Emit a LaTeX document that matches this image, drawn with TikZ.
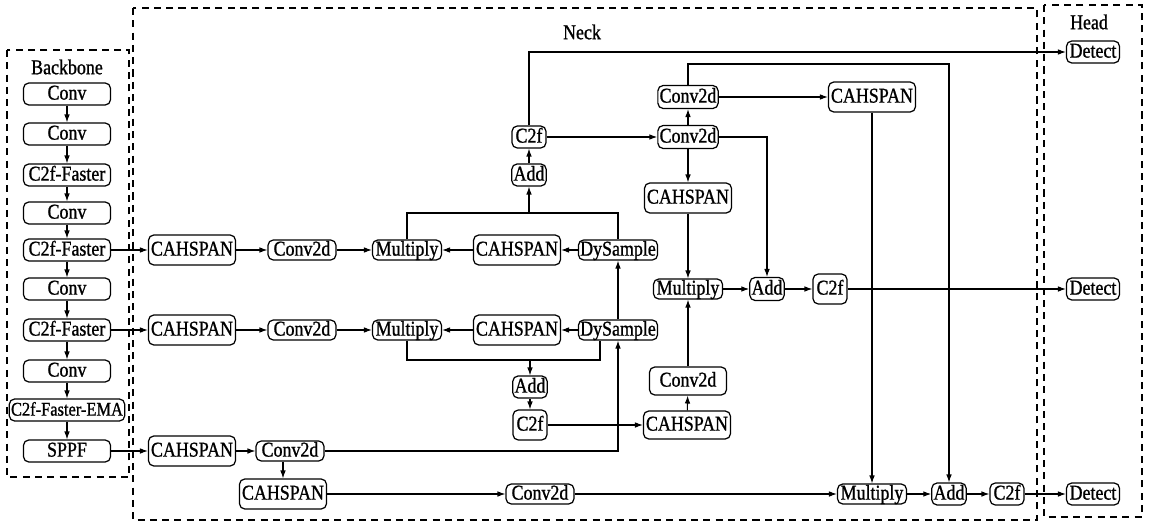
\documentclass[tikz,border=0pt]{standalone}
\usepackage{fontspec}
\setmainfont{Liberation Serif}[FakeStretch=0.85, FakeBold=1]
\usetikzlibrary{arrows.meta,positioning,calc}

\begin{document}
\begin{tikzpicture}[x=0.02cm, y=-0.02cm,
    blk/.style={draw, rounded corners=3pt, line width=0.7pt, inner xsep=1pt, inner ysep=0.5pt,
                text height=7.6pt, text depth=1.2pt, font=\fontsize{12}{14}\selectfont},
    bb/.style={blk, minimum width=1.74cm, minimum height=0.44cm},
    cah/.style={blk, minimum width=1.74cm, minimum height=0.6cm},
    cv/.style={blk, minimum width=1.36cm, minimum height=0.4cm},
    mul/.style={blk, minimum width=1.38cm, minimum height=0.4cm},
    dys/.style={blk, minimum width=1.54cm, minimum height=0.4cm},
    sm/.style={blk, minimum width=0.68cm, minimum height=0.44cm},
    det/.style={blk, minimum width=1.06cm, minimum height=0.44cm},
    arr/.style={-{Latex[length=4.5pt,width=3.2pt]}, line width=0.6pt},
    ln/.style={line width=0.6pt},
    grp/.style={draw, dash pattern=on 4pt off 3pt, line width=0.6pt},
    ttl/.style={font=\fontsize{12}{14}\selectfont}
]
    \useasboundingbox (0,0) rectangle (1150,524);

    % Groups
    \draw[grp] (7,50) rectangle (129,477);
    \draw[grp] (133,8) rectangle (1037,520);
    \draw[grp] (1044,5) rectangle (1142,517);
    \node[ttl] (lbb) at (67,67) {Backbone};
    \node[ttl] (lneck) at (582,32) {Neck};
    \node[ttl] (lhead) at (1089,22) {Head};

    % Backbone
    \foreach \n/\y/\t in {1/94/Conv, 2/134/Conv, 3/175/C2f-Faster, 4/213/Conv,
                          5/250/C2f-Faster, 6/289/Conv, 7/330/C2f-Faster, 8/371/Conv, 10/451/SPPF}
        \node[bb] (bb\n) at (67,\y) {\t};
    \node[bb, minimum width=2.3cm, font=\fontsize{11}{13}\selectfont] (bb9) at (67,410) {C2f-Faster-EMA};
    \foreach \a/\b in {1/2,2/3,3/4,4/5,5/6,6/7,7/8,8/9,9/10}
        \draw[arr] (bb\a.south) -- (bb\b.north);

    % Neck, first row
    \node[cah] (csA) at (192,250) {CAHSPAN};
    \node[cv] (cvA) at (302,250) {Conv2d};
    \node[mul] (muA) at (407,250) {Multiply};
    \node[cah] (csA2) at (517,250) {CAHSPAN};
    \node[dys] (dsA) at (618,250) {DySample};
    % Neck, second row
    \node[cah] (csB) at (192,330) {CAHSPAN};
    \node[cv] (cvB) at (302,330) {Conv2d};
    \node[mul] (muB) at (407,330) {Multiply};
    \node[cah] (csB2) at (517,330) {CAHSPAN};
    \node[dys] (dsB) at (618,330) {DySample};
    % Neck, upper middle
    \node[sm] (addU) at (529,175) {Add};
    \node[sm] (c2fU) at (529,137) {C2f};
    \node[cv, minimum width=1.2cm, minimum height=0.46cm] (cvM) at (688,137) {Conv2d};
    \node[cv, minimum width=1.2cm, minimum height=0.46cm] (cvT) at (688,97) {Conv2d};
    \node[cah] (csT) at (872,97) {CAHSPAN};
    \node[cah] (csM) at (688,198) {CAHSPAN};
    \node[mul] (muM) at (688,289) {Multiply};
    \node[sm, minimum height=0.46cm] (addM) at (767,289) {Add};
    \node[sm, minimum height=0.6cm] (c2fM) at (830,289) {C2f};
    % Neck, lower middle
    \node[cv, minimum width=1.54cm, minimum height=0.56cm] (cvL) at (688,381) {Conv2d};
    \node[cah, minimum height=0.56cm] (csL) at (687,425) {CAHSPAN};
    \node[sm] (addL) at (530,387) {Add};
    \node[sm, minimum height=0.6cm] (c2fL) at (530,425) {C2f};
    % Neck, bottom rows
    \node[cah] (csC) at (192,451) {CAHSPAN};
    \node[cv] (cvC) at (290,451) {Conv2d};
    \node[cah] (csD) at (283,494) {CAHSPAN};
    \node[cv] (cvD) at (540,494) {Conv2d};
    \node[mul] (muE) at (872,494) {Multiply};
    \node[sm] (addE) at (949,494) {Add};
    \node[sm] (c2fE) at (1007,494) {C2f};
    % Head
    \node[det] (dtT) at (1093,52) {Detect};
    \node[det] (dtM) at (1093,289) {Detect};
    \node[det] (dtB) at (1093,494) {Detect};

    % Connections
    \draw[arr] (bb5.east) -- (csA.west);
    \draw[arr] (csA) -- (cvA);
    \draw[arr] (cvA) -- (muA);
    \draw[arr] (csA2) -- (muA);
    \draw[arr] (dsA) -- (csA2);
    \draw[arr] (bb7.east) -- (csB.west);
    \draw[arr] (csB) -- (cvB);
    \draw[arr] (cvB) -- (muB);
    \draw[arr] (csB2) -- (muB);
    \draw[arr] (dsB) -- (csB2);
    \draw[arr] (dsB.north) -- (dsA.south);

    \coordinate (jA) at (618,213);
    \draw[ln] (muA.north) |- (jA) -- (dsA.north);
    \draw[arr] (addU.south |- jA) -- (addU.south);
    \draw[arr] (addU) -- (c2fU);
    \draw[arr] (c2fU.north) |- (dtT.west);
    \draw[arr] (c2fU) -- (cvM);
    \draw[arr] (cvM) -- (cvT);
    \draw[arr] (cvT) -- (csT);
    \coordinate (jT) at (949,64);
    \draw[arr] (cvT.north) |- (jT) -- (addE.north);
    \draw[arr] (csT.south) -- (muE.north);
    \draw[arr] (cvM.east) -| (addM.north);
    \draw[arr] (cvM) -- (csM);
    \draw[arr] (csM) -- (muM);
    \draw[arr] (muM) -- (addM);
    \draw[arr] (addM) -- (c2fM);
    \draw[arr] (c2fM) -- (dtM);

    \coordinate (jB) at (600,360);
    \draw[ln] (muB.south) |- (jB) -- (jB |- dsB.south);
    \draw[arr] (addL.north |- jB) -- (addL.north);
    \draw[arr] (addL) -- (c2fL);
    \draw[arr] (c2fL) -- (csL);
    \draw[arr] (csL) -- (cvL);
    \draw[arr] (cvL) -- (muM);

    \draw[arr] (bb10.east) -- (csC.west);
    \draw[arr] (csC) -- (cvC);
    \draw[arr] (cvC.east) -| (dsB.south);
    \draw[arr] (csD.north |- cvC.south) -- (csD.north);
    \draw[arr] (csD) -- (cvD);
    \draw[arr] (cvD) -- (muE);
    \draw[arr] (muE) -- (addE);
    \draw[arr] (addE) -- (c2fE);
    \draw[arr] (c2fE) -- (dtB);
\end{tikzpicture}
\end{document}
